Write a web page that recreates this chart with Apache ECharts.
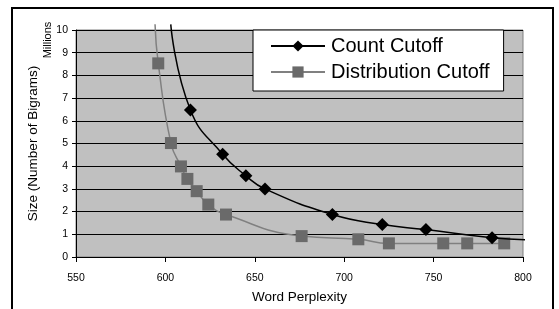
<!DOCTYPE html>
<html>
<head>
<meta charset="utf-8">
<script src="https://cdn.jsdelivr.net/npm/echarts@6/dist/echarts.min.js"></script>
<style>
  html, body { margin: 0; padding: 0; background: #fff; }
  #main { width: 559px; height: 309px; }
</style>
</head>
<body>
<div id="main"></div>
<script>
// values (x = word perplexity, y = millions of bigrams)
// first/last entries are the curve ends, drawn without a marker
const countCutoff = [
  [603, 10.25], [614, 6.48], [632, 4.53], [645, 3.58], [655.7, 3.0],
  [693.4, 1.87], [721.3, 1.43], [745.7, 1.21], [782.7, 0.85], [805, 0.75]
];
const countBare = [0, 9]; // indexes of points drawn without a marker

const distCutoff = [
  [594.2, 10.25], [596, 8.53], [603.1, 5.02], [608.7, 3.99], [612.3, 3.44], [617.5, 2.9],
  [624, 2.31], [633.9, 1.87], [676.2, 0.92], [707.9, 0.78], [725, 0.6],
  [755.4, 0.6], [768.8, 0.6], [789.5, 0.6]
];
const distBare = [0];

const xTicks = { min: 550, max: 800, step: 50 };
const yTicks = { min: 0, max: 10, step: 1 };

const font = 'Liberation Sans, Arial, sans-serif';

function withMarkers(arr, bare) {
  return arr.map(function (p, i) {
    if (bare.indexOf(i) >= 0) return { value: p, symbol: 'none' };
    return { value: p };
  });
}

const chart = echarts.init(document.getElementById('main'));

chart.setOption({
  backgroundColor: '#fff',
  animation: false,
  textStyle: { fontFamily: font, color: '#000' },
  grid: {
    left: 76, top: 30, right: 36, bottom: 51,
    show: true,
    backgroundColor: '#c0c0c0',
    borderColor: '#808080',
    borderWidth: 1
  },
  legend: {
    left: 253, top: 30,
    orient: 'vertical',
    backgroundColor: '#fff',
    borderColor: '#000',
    borderWidth: 1,
    borderRadius: 0,
    padding: [6, 14, 9, 17],
    itemWidth: 54,
    itemHeight: 14,
    itemGap: 6,
    textStyle: { fontSize: 20, fontFamily: font, color: '#000', padding: [0, 0, 0, 1] },
    data: ['Count Cutoff', 'Distribution Cutoff']
  },
  xAxis: {
    type: 'value',
    min: xTicks.min, max: xTicks.max, interval: xTicks.step,
    name: 'Word Perplexity',
    nameLocation: 'middle',
    nameGap: 33,
    nameTextStyle: { fontSize: 13.5, fontFamily: font, color: '#000' },
    axisLine: { lineStyle: { color: '#000', width: 1 } },
    axisTick: { show: true, length: 5, lineStyle: { color: '#000' } },
    axisLabel: { fontSize: 10.5, color: '#000', margin: 16, fontFamily: font },
    splitLine: { show: false }
  },
  yAxis: {
    type: 'value',
    min: yTicks.min, max: yTicks.max, interval: yTicks.step,
    name: 'Size (Number of Bigrams)',
    nameLocation: 'middle',
    nameGap: 36,
    nameTextStyle: { fontSize: 13.5, fontFamily: font, color: '#000' },
    axisLine: { show: true, lineStyle: { color: '#000', width: 1 } },
    axisTick: { show: true, length: 4, lineStyle: { color: '#000' } },
    axisLabel: { fontSize: 10.5, color: '#000', margin: 8, fontFamily: font },
    splitLine: { show: true, lineStyle: { color: '#000', width: 1 } }
  },
  graphic: [
    {
      type: 'rect',
      shape: { x: 12, y: 8, width: 541, height: 330 },
      style: { fill: 'none', stroke: '#000', lineWidth: 2 },
      silent: true
    },
    {
      type: 'text',
      x: 48, y: 40,
      rotation: Math.PI / 2,
      style: {
        text: 'Millions',
        fontSize: 11,
        fontFamily: font,
        fill: '#000',
        textAlign: 'center',
        textVerticalAlign: 'middle'
      }
    }
  ],
  series: [
    {
      name: 'Distribution Cutoff',
      type: 'line',
      clip: false,
      smooth: 0.5,
      symbol: 'rect',
      symbolSize: 12,
      lineStyle: { color: '#808080', width: 1.5 },
      itemStyle: { color: '#6a6a6a', borderWidth: 0 },
      data: withMarkers(distCutoff, distBare),
      z: 3
    },
    {
      name: 'Count Cutoff',
      type: 'line',
      clip: false,
      smooth: 0.5,
      symbol: 'diamond',
      symbolSize: 13,
      lineStyle: { color: '#000', width: 1.5 },
      itemStyle: { color: '#000', borderWidth: 0 },
      data: withMarkers(countCutoff, countBare),
      z: 4
    }
  ]
});
</script>
</body>
</html>
